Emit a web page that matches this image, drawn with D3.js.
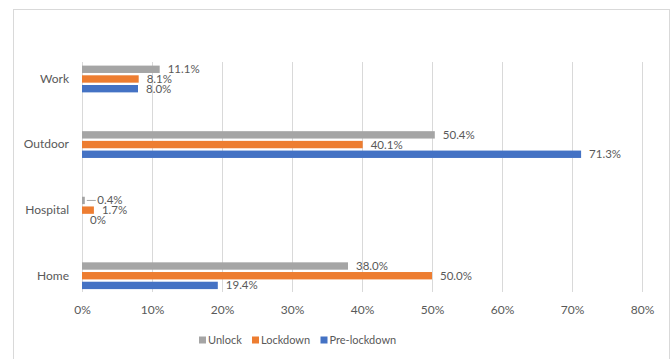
<!DOCTYPE html>
<html><head><meta charset="utf-8">
<script src="https://cdn.jsdelivr.net/npm/d3@7"></script>
<style>
html,body{margin:0;padding:0;background:#fff;}
svg text{font-family:Lato,"Open Sans",sans-serif;fill:#595959;}
</style></head>
<body>
<svg id="chart" width="672" height="359"></svg>
<script>
const categories = ["Work", "Outdoor", "Hospital", "Home"];
const seriesNames = ["Unlock", "Lockdown", "Pre-lockdown"];
const unlock = [11.1, 50.4, 0.4, 38.0];
const lockdown = [8.1, 40.1, 1.7, 50.0];
const preLockdown = [8.0, 71.3, 0, 19.4];
const valueLabels = [
  ["11.1%", "50.4%", "0.4%", "38.0%"],
  ["8.1%", "40.1%", "1.7%", "50.0%"],
  ["8.0%", "71.3%", "0%", "19.4%"]
];
const tickValues = [0, 10, 20, 30, 40, 50, 60, 70, 80];
const colors = ["#a5a5a5", "#ed7d31", "#4472c4"];

const seriesValues = [unlock, lockdown, preLockdown];
const svg = d3.select("#chart");

// outer border
svg.append("rect").attr("x", 13.5).attr("y", 9.5).attr("width", 656).attr("height", 360)
  .attr("fill", "none").attr("stroke", "#d9d9d9");

const x = d3.scaleLinear().domain([0, 80]).range([82, 642]);
const y0 = d3.scaleBand().domain(categories).range([46.2, 308.5]);
const y1 = d3.scaleBand().domain(seriesNames).range([-14.55, 14.55]).paddingInner(0.24).paddingOuter(0.12);

const gridTop = 62, gridBottom = 292;
// gridlines
svg.append("g").selectAll("line").data(tickValues).join("line")
  .attr("x1", d => Math.round(x(d)) + 0.5).attr("x2", d => Math.round(x(d)) + 0.5)
  .attr("y1", gridTop).attr("y2", gridBottom)
  .attr("stroke", "#d9d9d9").attr("stroke-width", 1);

// x axis labels
const xAxis = d3.axisBottom(x).tickValues(tickValues).tickFormat(d => d + "%").tickSize(0).tickPadding(0);
const gx = svg.append("g").attr("transform", `translate(0,${305})`).call(xAxis);
gx.select(".domain").remove();
gx.selectAll("text").attr("font-size", 12).attr("dy", "0.71em").style("fill", "#595959").attr("font-family", "Lato");

// y axis labels
const yAxis = d3.axisLeft(y0).tickSize(0).tickPadding(0);
const gy = svg.append("g").attr("transform", `translate(69,${0})`).call(yAxis);
gy.select(".domain").remove();
gy.selectAll("text").attr("font-size", 12).style("fill", "#595959").attr("font-family", "Lato");

// bars
const rows = [];
categories.forEach((c, i) => {
  seriesNames.forEach((s, j) => {
    rows.push({cat: c, ser: s, v: seriesValues[j][i], label: valueLabels[j][i], color: colors[j]});
  });
});

const g = svg.append("g");
g.selectAll("rect").data(rows.filter(d => d.v > 0)).join("rect")
  .attr("x", x(0))
  .attr("y", d => y0(d.cat) + y0.bandwidth() / 2 + y1(d.ser))
  .attr("width", d => x(d.v) - x(0))
  .attr("height", y1.bandwidth())
  .attr("fill", d => d.color);

// labels
rows.forEach(d => {
  const cy = y0(d.cat) + y0.bandwidth() / 2 + y1(d.ser) + y1.bandwidth() / 2;
  let lx = x(d.v) + 8;
  if (d.v > 0 && d.v < 1) {
    // leader line for tiny bar
    g.append("line").attr("x1", x(d.v) + 2).attr("x2", x(d.v) + 11)
      .attr("y1", cy).attr("y2", cy).attr("stroke", "#a6a6a6").attr("stroke-width", 1);
    lx = x(d.v) + 12.5;
  }
  g.append("text").attr("x", lx).attr("y", cy).attr("dy", "0.35em")
    .attr("font-size", 11.5).text(d.label);
});

// legend
const legendX = [199, 252, 320.5];
const leg = svg.append("g");
seriesNames.forEach((s, j) => {
  leg.append("rect").attr("x", legendX[j]).attr("y", 336.5).attr("width", 7).attr("height", 7).attr("fill", colors[j]);
  leg.append("text").attr("x", legendX[j] + 9).attr("y", 340).attr("dy", "0.35em").attr("font-size", 11).text(s);
});
</script>
</body></html>
